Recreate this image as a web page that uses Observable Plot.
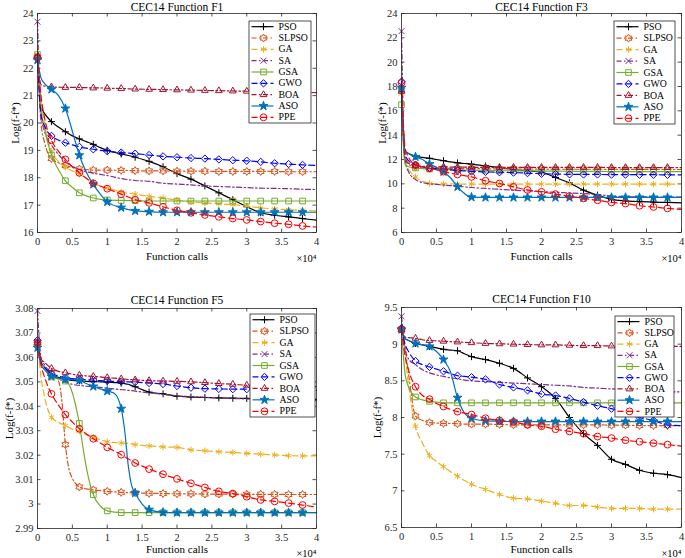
<!DOCTYPE html>
<html><head><meta charset="utf-8">
<script src="https://cdn.jsdelivr.net/npm/d3@7"></script>
<script src="https://cdn.jsdelivr.net/npm/@observablehq/plot@0.6"></script>
<style>
body{margin:0;background:#fff;}
#root{position:relative;width:685px;height:558px;overflow:hidden;background:#fff;}
</style></head><body><div id="root"></div>
<script>
// ---------- categories / ticks ----------
const series = ["PSO","SLPSO","GA","SA","GSA","GWO","BOA","ASO","PPE"];
const xTicks = [0,0.5,1,1.5,2,2.5,3,3.5,4];
const f1YTicks = [16,17,18,19,20,21,22,23,24];
const f3YTicks = [6,8,10,12,14,16,18,20,22,24];
const f5YTicks = [2.99,3,3.01,3.02,3.03,3.04,3.05,3.06,3.07,3.08];
const f10YTicks = [6.5,7,7.5,8,8.5,9,9.5];

// ---------- x grids (×10^4 function calls) ----------
const X1 = [0,0.05,0.1,0.2,0.3,0.4,0.5,0.6,0.7,0.8,0.9,1.0,1.2,1.4,1.6,1.8,2.0,2.2,2.4,2.6,2.8,3.0,3.2,3.4,3.6,3.8,4.0];
const X5 = [0,0.05,0.1,0.2,0.3,0.35,0.4,0.45,0.5,0.55,0.6,0.65,0.7,0.75,0.8,0.9,1.0,1.1,1.2,1.25,1.3,1.35,1.4,1.5,1.6,1.8,2.0,2.2,2.4,2.6,2.8,3.0,3.2,3.4,3.6,3.8,4.0];

// ---------- F1 ----------
const f1_PSO   = [22.4,20.6,20.35,20.05,19.85,19.68,19.53,19.42,19.32,19.22,19.1,19.0,18.87,18.75,18.6,18.4,18.15,17.95,17.7,17.45,17.2,16.94,16.72,16.63,16.57,16.51,16.45];
const f1_SLPSO = [22.4,20.0,19.3,18.7,18.55,18.45,18.38,18.32,18.3,18.28,18.28,18.28,18.27,18.26,18.25,18.25,18.24,18.24,18.24,18.23,18.23,18.23,18.23,18.23,18.22,18.22,18.22];
const f1_GA    = [22.5,20.8,20.0,18.97,18.6,18.38,18.25,18.13,17.97,17.8,17.7,17.63,17.48,17.4,17.32,17.26,17.18,17.12,17.08,17.05,17.02,16.96,16.9,16.86,16.83,16.81,16.79];
const f1_SA    = [23.7,20.3,19.7,19.2,18.85,18.6,18.42,18.3,18.22,18.17,18.12,18.08,17.97,17.9,17.87,17.8,17.77,17.74,17.7,17.68,17.66,17.64,17.62,17.61,17.6,17.58,17.57];
const f1_GSA   = [22.5,20.5,19.8,18.83,18.3,17.89,17.65,17.45,17.34,17.26,17.21,17.19,17.17,17.16,17.15,17.15,17.15,17.15,17.15,17.15,17.15,17.15,17.15,17.15,17.15,17.15,17.15];
const f1_GWO   = [22.4,20.3,19.9,19.53,19.38,19.28,19.2,19.13,19.08,19.04,19.0,18.97,18.92,18.88,18.83,18.78,18.75,18.72,18.7,18.67,18.64,18.62,18.58,18.53,18.5,18.47,18.45];
const f1_BOA   = [22.4,21.4,21.35,21.32,21.31,21.3,21.3,21.3,21.29,21.28,21.28,21.27,21.26,21.24,21.23,21.22,21.21,21.2,21.19,21.18,21.17,21.16,21.15,21.14,21.13,21.12,21.11];
const f1_ASO   = [22.3,21.65,21.45,21.23,21.0,20.53,19.7,18.82,18.2,17.76,17.4,17.12,16.91,16.79,16.76,16.74,16.74,16.74,16.74,16.74,16.74,16.74,16.74,16.74,16.74,16.74,16.74];
const f1_PPE   = [22.4,21.0,20.2,19.37,18.97,18.67,18.4,18.18,17.98,17.8,17.7,17.6,17.4,17.2,17.08,16.94,16.81,16.72,16.64,16.57,16.51,16.46,16.4,16.34,16.3,16.24,16.2];

// ---------- F3 ----------
const f3_PSO   = [17.6,12.7,12.5,12.28,12.18,12.1,12.0,11.9,11.8,11.72,11.67,11.62,11.47,11.35,11.18,11.07,10.96,10.52,10.08,9.48,9.07,8.72,8.6,8.54,8.5,8.47,8.44];
const f3_SLPSO = [17.7,12.0,11.6,11.4,11.35,11.32,11.3,11.28,11.27,11.26,11.25,11.25,11.24,11.23,11.22,11.22,11.21,11.2,11.2,11.2,11.2,11.19,11.19,11.19,11.18,11.18,11.18];
const f3_GA    = [17.4,11.8,11.2,10.57,10.2,10.03,10.0,9.99,9.99,9.98,9.98,9.98,9.98,9.98,9.98,9.98,9.98,9.98,9.98,9.98,9.98,9.98,9.98,9.98,9.98,9.98,9.98];
const f3_SA    = [22.55,12.0,11.0,10.35,10.1,10.0,9.95,9.9,9.85,9.8,9.75,9.7,9.62,9.55,9.48,9.42,9.36,9.3,9.25,9.2,9.12,9.0,8.95,8.93,8.92,8.9,8.9];
const f3_GSA   = [16.5,11.6,11.4,11.3,11.25,11.22,11.2,11.18,11.16,11.15,11.13,11.12,11.1,11.08,11.07,11.06,11.05,11.04,11.03,11.02,11.02,11.01,11.01,11.0,11.0,11.0,11.0];
const f3_GWO   = [18.4,12.5,11.9,11.55,11.4,11.3,11.25,11.2,11.15,11.1,11.06,11.02,10.98,10.95,10.92,10.88,10.83,10.8,10.78,10.77,10.77,10.76,10.76,10.75,10.75,10.74,10.74];
const f3_BOA   = [17.6,12.2,11.7,11.5,11.45,11.42,11.4,11.39,11.38,11.37,11.37,11.36,11.36,11.35,11.35,11.35,11.35,11.35,11.35,11.35,11.35,11.34,11.34,11.34,11.34,11.34,11.34];
const f3_ASO   = [17.9,12.7,12.5,12.22,12.0,11.62,11.35,11.0,10.5,9.75,9.2,8.9,8.88,8.88,8.88,8.88,8.88,8.88,8.88,8.88,8.88,8.88,8.88,8.88,8.88,8.88,8.88];
const f3_PPE   = [18.3,13.0,12.2,11.55,11.4,11.27,11.15,11.0,10.88,10.77,10.67,10.57,10.25,10.03,9.75,9.5,9.34,9.15,8.99,8.8,8.65,8.47,8.38,8.2,8.1,7.98,7.9];

// ---------- F5 ----------
const f5_PSO   = [3.066,3.058,3.056,3.053,3.0518,3.0514,3.051,3.0508,3.0506,3.0505,3.0504,3.0503,3.0502,3.0501,3.0501,3.05,3.0499,3.0497,3.0495,3.0493,3.049,3.0485,3.048,3.0468,3.0458,3.0451,3.0441,3.0438,3.0436,3.0434,3.0433,3.0432,3.0431,3.043,3.0429,3.0428,3.0428];
const f5_SLPSO = [3.066,3.058,3.056,3.0535,3.0505,3.042,3.0243,3.0145,3.0105,3.0083,3.007,3.0065,3.0062,3.006,3.0058,3.0055,3.0052,3.005,3.0048,3.0047,3.0047,3.0046,3.0046,3.0045,3.0044,3.0043,3.0042,3.0042,3.0041,3.0041,3.0041,3.004,3.004,3.004,3.0039,3.0039,3.0039];
const f5_GA    = [3.066,3.052,3.044,3.0355,3.0335,3.0327,3.0321,3.0313,3.0306,3.0302,3.0298,3.0291,3.0284,3.0278,3.0273,3.0263,3.0255,3.0252,3.025,3.0249,3.0248,3.0246,3.0243,3.024,3.0238,3.0234,3.0232,3.0222,3.0218,3.0214,3.0211,3.0207,3.0204,3.0201,3.0198,3.0197,3.0197];
const f5_SA    = [3.079,3.06,3.057,3.0535,3.0515,3.0505,3.0498,3.0493,3.049,3.0487,3.0485,3.0484,3.0482,3.0481,3.048,3.0477,3.0474,3.0471,3.0468,3.0467,3.0465,3.0464,3.0462,3.0458,3.0455,3.0449,3.0443,3.044,3.0437,3.0434,3.0432,3.043,3.0428,3.0426,3.0425,3.0424,3.0423];
const f5_GSA   = [3.066,3.058,3.056,3.052,3.0512,3.0508,3.0503,3.049,3.0455,3.04,3.033,3.0235,3.015,3.0085,3.0038,2.9992,2.9972,2.9967,2.9965,2.9965,2.9965,2.9965,2.9965,2.9965,2.9965,2.9965,2.9965,2.9965,2.9965,2.9965,2.9965,2.9965,2.9965,2.9965,2.9965,2.9965,2.9965];
const f5_GWO   = [3.067,3.058,3.056,3.0533,3.0524,3.052,3.0517,3.0515,3.0513,3.0512,3.0511,3.051,3.0509,3.0508,3.0507,3.0505,3.0504,3.0502,3.0501,3.05,3.05,3.0499,3.0499,3.0497,3.0495,3.0491,3.0483,3.0476,3.0472,3.0471,3.047,3.047,3.0469,3.0468,3.0467,3.0466,3.0465];
const f5_BOA   = [3.066,3.0595,3.058,3.0555,3.0543,3.054,3.0537,3.0534,3.0531,3.0529,3.0527,3.0526,3.0524,3.0523,3.0522,3.052,3.0517,3.0515,3.0512,3.0511,3.051,3.0509,3.0508,3.0506,3.0505,3.0503,3.0502,3.05,3.0497,3.0493,3.049,3.0486,3.0484,3.0483,3.0482,3.0481,3.048];
const f5_ASO   = [3.064,3.057,3.055,3.0522,3.0515,3.0513,3.0511,3.051,3.0509,3.0508,3.0506,3.05,3.0493,3.0487,3.0481,3.0471,3.0462,3.0453,3.039,3.03,3.016,3.0075,3.0045,3.0,2.9977,2.9966,2.9965,2.9965,2.9965,2.9965,2.9965,2.9965,2.9965,2.9965,2.9965,2.9965,2.9965];
const f5_PPE   = [3.066,3.057,3.052,3.0451,3.0405,3.0385,3.0366,3.035,3.0335,3.0321,3.0308,3.0297,3.0287,3.0277,3.0267,3.025,3.0232,3.0217,3.0202,3.0193,3.0185,3.0177,3.0168,3.0155,3.0143,3.0122,3.0103,3.0085,3.0068,3.0052,3.0043,3.003,3.0017,3.0011,3.0004,2.9996,2.9987];

// ---------- F10 ----------
const f10_PSO   = [9.2,9.08,9.05,9.01,8.99,8.97,8.95,8.93,8.92,8.91,8.87,8.83,8.79,8.74,8.67,8.54,8.42,8.26,8.0,7.78,7.62,7.43,7.36,7.28,7.24,7.22,7.18];
const f10_SLPSO = [9.2,8.95,8.6,8.02,7.96,7.93,7.925,7.92,7.92,7.915,7.91,7.91,7.91,7.905,7.9,7.9,7.9,7.9,7.9,7.9,7.9,7.895,7.895,7.89,7.89,7.89,7.89];
const f10_GA    = [9.2,8.85,8.45,7.88,7.65,7.48,7.4,7.33,7.26,7.2,7.14,7.09,7.02,6.95,6.9,6.89,6.86,6.83,6.8,6.8,6.78,6.76,6.76,6.76,6.75,6.75,6.75];
const f10_SA    = [9.38,8.95,8.8,8.72,8.65,8.61,8.58,8.56,8.54,8.53,8.51,8.5,8.49,8.48,8.47,8.46,8.45,8.44,8.43,8.41,8.4,8.39,8.38,8.37,8.36,8.35,8.35];
const f10_GSA   = [9.2,8.6,8.42,8.28,8.24,8.22,8.21,8.2,8.2,8.2,8.2,8.2,8.2,8.2,8.2,8.2,8.2,8.2,8.2,8.2,8.2,8.2,8.2,8.2,8.2,8.2,8.2];
const f10_GWO   = [9.22,9.0,8.9,8.77,8.72,8.69,8.66,8.63,8.6,8.57,8.56,8.55,8.52,8.45,8.41,8.37,8.32,8.3,8.26,8.21,8.16,8.12,8.06,8.0,7.96,7.9,7.89];
const f10_BOA   = [9.2,9.1,9.09,9.08,9.06,9.05,9.045,9.04,9.035,9.03,9.025,9.02,9.01,9.005,9.0,8.995,8.99,8.99,8.985,8.98,8.98,8.975,8.975,8.97,8.97,8.97,8.97];
const f10_ASO   = [9.2,9.08,9.05,9.01,8.99,8.97,8.9,8.79,8.62,8.27,8.06,7.99,7.955,7.95,7.945,7.945,7.945,7.945,7.945,7.945,7.945,7.945,7.945,7.945,7.945,7.945,7.945];
const f10_PPE   = [9.2,8.85,8.65,8.42,8.3,8.25,8.19,8.15,8.11,8.08,8.06,8.04,7.99,7.96,7.94,7.9,7.88,7.84,7.81,7.78,7.74,7.72,7.69,7.67,7.65,7.63,7.61];

// ---------- styles ----------
const hexagram = {
  draw(context, size) {
    const R = Math.sqrt(size / Math.PI) * 1.25, r = R / Math.sqrt(3);
    for (let i = 0; i < 12; ++i) {
      const a = -Math.PI / 2 + i * Math.PI / 6, rr = i % 2 ? r : R;
      const px = rr * Math.cos(a), py = rr * Math.sin(a);
      if (i === 0) context.moveTo(px, py); else context.lineTo(px, py);
    }
    context.closePath();
  }
};
const colors  = ["#000000","#D95319","#EDB120","#7E2F8E","#77AC30","#0000FF","#A2142F","#0072BD","#FF0000"];
const DD = "5,2.5,1.5,2.5", DA = "6,3.5";
const dashes  = [null, DD, DA, DD, null, DA, DD, null, DA];
const symbols = ["plus", hexagram, "asterisk", "times", "square2", "diamond2", "triangle2", "star", "circle"];
const symR    = [2.4, 3.2, 3.0, 2.8, 3.6, 3.3, 3.2, 2.8, 3.4];
const symFill = ["none","none","none","none","none","none","none","#0072BD","none"];
const FONT = "'Liberation Serif','Times New Roman',serif";
const AX = "#262626";

const panels = [
  {title:"CEC14 Function F1", xs:X1, ys:[f1_PSO,f1_SLPSO,f1_GA,f1_SA,f1_GSA,f1_GWO,f1_BOA,f1_ASO,f1_PPE],
   ydom:[16,24], yticks:f1YTicks, left:0, top:0, w:342, h:279, mL:37, mR:26, mT:13, mB:47,
   titleDy:-6, yLabDx:-22, xLabDy:24, expDy:26, leg:{left:248, top:20, w:63, h:103}},
  {title:"CEC14 Function F3", xs:X1, ys:[f3_PSO,f3_SLPSO,f3_GA,f3_SA,f3_GSA,f3_GWO,f3_BOA,f3_ASO,f3_PPE],
   ydom:[6,24], yticks:f3YTicks, left:342, top:0, w:343, h:279, mL:59, mR:4, mT:13, mB:47,
   titleDy:-6, yLabDx:-19.5, xLabDy:24, expDy:26, leg:{left:613, top:19.5, w:62, h:104}},
  {title:"CEC14 Function F5", xs:X5, ys:[f5_PSO,f5_SLPSO,f5_GA,f5_SA,f5_GSA,f5_GWO,f5_BOA,f5_ASO,f5_PPE],
   ydom:[2.99,3.08], yticks:f5YTicks, left:0, top:279, w:342, h:279, mL:37, mR:26, mT:29, mB:30,
   titleDy:-8, yLabDx:-28.5, xLabDy:20.5, expDy:25, leg:{left:248.5, top:313, w:66, h:104}},
  {title:"CEC14 Function F10", xs:X1, ys:[f10_PSO,f10_SLPSO,f10_GA,f10_SA,f10_GSA,f10_GWO,f10_BOA,f10_ASO,f10_PPE],
   ydom:[6.5,9.5], yticks:f10YTicks, left:342, top:279, w:343, h:279, mL:59, mR:4, mT:28, mB:31,
   titleDy:-8, yLabDx:-24.5, xLabDy:21.5, expDy:26, leg:{left:613.5, top:314.5, w:60, h:102}}
];

const isMarkerX = x => Math.abs(x / 0.2 - Math.round(x / 0.2)) < 1e-6 && x < 3.9;
const root = document.getElementById("root");

function place(el, left, top) {
  el.style.position = "absolute";
  el.style.left = left + "px";
  el.style.top = top + "px";
  el.style.maxWidth = "none";
  el.style.overflow = "visible";
  el.style.background = "transparent";
  root.appendChild(el);
}

for (const cfg of panels) {
  const plotW = cfg.w - cfg.mL - cfg.mR, plotH = cfg.h - cfg.mT - cfg.mB;
  const TL = 3.5;
  const marks = [
    Plot.tickX(xTicks, {x: d => d, insetTop: plotH - TL, stroke: AX, strokeWidth: 0.8}),
    Plot.tickX(xTicks, {x: d => d, insetBottom: plotH - TL, stroke: AX, strokeWidth: 0.8}),
    Plot.tickY(cfg.yticks, {y: d => d, insetRight: plotW - TL, stroke: AX, strokeWidth: 0.8}),
    Plot.tickY(cfg.yticks, {y: d => d, insetLeft: plotW - TL, stroke: AX, strokeWidth: 0.8}),
    Plot.axisX({ticks: xTicks, tickSize: 0, tickPadding: 5, tickFormat: d => String(d), label: null, fill: AX}),
    Plot.axisY({ticks: cfg.yticks, tickSize: 0, tickPadding: 4, tickFormat: d => String(d), label: null, fill: AX})
  ];
  series.forEach((name, k) => {
    const rows = cfg.xs.map((x, i) => ({x, y: cfg.ys[k][i]}));
    const lineOpts = {x: "x", y: "y", stroke: colors[k], strokeWidth: 1.2, curve: "monotone-x"};
    if (dashes[k]) lineOpts.strokeDasharray = dashes[k];
    marks.push(Plot.line(rows, lineOpts));
    const mrows = rows.filter(r => isMarkerX(r.x) && (name !== "SA" || r.x === 0));
    marks.push(Plot.dot(mrows, {x: "x", y: "y", symbol: symbols[k], r: symR[k], stroke: colors[k], fill: symFill[k], strokeWidth: 1}));
  });
  marks.push(Plot.frame({stroke: AX, strokeWidth: 0.8}));
  marks.push(Plot.text([cfg.title], {text: d => d, frameAnchor: "top", lineAnchor: "middle", textAnchor: "middle", dy: cfg.titleDy, fontSize: 11.5, fill: "#000"}));
  marks.push(Plot.text(["Function calls"], {text: d => d, frameAnchor: "bottom", lineAnchor: "middle", textAnchor: "middle", dy: cfg.xLabDy, fontSize: 11, fill: "#000"}));
  marks.push(Plot.text(["\u00d710\u2074"], {text: d => d, frameAnchor: "bottom-right", lineAnchor: "middle", textAnchor: "end", dy: cfg.expDy, fontSize: 10.5, fill: "#000"}));
  marks.push(Plot.text(["Log(f-f*)"], {text: d => d, frameAnchor: "left", lineAnchor: "middle", textAnchor: "middle", dx: cfg.yLabDx, rotate: -90, fontSize: 11, fill: "#000"}));

  const svg = Plot.plot({
    width: cfg.w, height: cfg.h,
    marginLeft: cfg.mL, marginRight: cfg.mR, marginTop: cfg.mT, marginBottom: cfg.mB,
    x: {domain: [0, 4]},
    y: {domain: cfg.ydom},
    style: {fontFamily: FONT, fontSize: "10.5px", color: "#000", background: "transparent", overflow: "visible"},
    marks
  });
  place(svg, cfg.left, cfg.top);

  // legend
  const L = cfg.leg;
  const lmarks = [Plot.frame({fill: "white", stroke: AX, strokeWidth: 0.8})];
  series.forEach((name, k) => {
    const o = {y: d => d, insetLeft: 3, insetRight: L.w - 26, stroke: colors[k], strokeWidth: 1.2};
    if (dashes[k]) o.strokeDasharray = dashes[k];
    lmarks.push(Plot.tickY([name], o));
    lmarks.push(Plot.dot([name], {y: d => d, frameAnchor: "left", dx: 14.5, symbol: symbols[k], r: symR[k], stroke: colors[k], fill: symFill[k], strokeWidth: 1}));
    lmarks.push(Plot.text([name], {y: d => d, text: d => d, frameAnchor: "left", lineAnchor: "middle", dx: 29.5, textAnchor: "start", fontSize: 9.8, fill: "#000"}));
  });
  const leg = Plot.plot({
    width: L.w, height: L.h, margin: 0.5,
    x: {domain: [0, 1], axis: null},
    y: {type: "band", domain: series, axis: null, padding: 0, round: false},
    style: {fontFamily: FONT, fontSize: "9.8px", color: "#000", background: "transparent", overflow: "visible"},
    marks: lmarks
  });
  place(leg, L.left, L.top);
}
</script></body></html>
